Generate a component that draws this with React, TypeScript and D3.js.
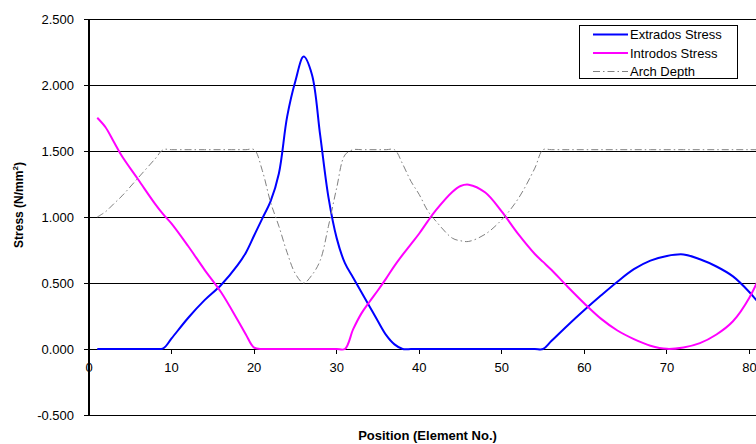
import React from 'react';
import * as d3 from 'd3';

// element positions along the arch
const positions = [1, 2, 3, 4, 6, 8, 9, 10, 12, 14, 16, 18, 19, 20, 21, 22, 23, 24, 25, 26, 27, 28, 29, 30, 31, 32, 33, 34, 35, 36, 37, 38, 39, 40, 41, 42, 44, 45, 46, 48, 50, 52, 54, 55, 56, 58, 60, 62, 64, 66, 68, 70, 72, 74, 76, 78, 80, 82];

const extrados = [0, 0, 0, 0, 0, 0, 0.005, 0.08, 0.235, 0.37, 0.485, 0.635, 0.73, 0.86, 0.99, 1.12, 1.33, 1.76, 2.03, 2.215, 2.08, 1.62, 1.15, 0.84, 0.65, 0.54, 0.43, 0.32, 0.21, 0.105, 0.035, 0, 0, 0, 0, 0, 0, 0, 0, 0, 0, 0, 0, 0, 0.06, 0.18, 0.295, 0.405, 0.51, 0.605, 0.67, 0.705, 0.716, 0.68, 0.625, 0.55, 0.43, 0.28];

const introdos = [1.752, 1.68, 1.57, 1.46, 1.28, 1.1, 1.02, 0.95, 0.78, 0.6, 0.43, 0.22, 0.11, 0.01, 0, 0, 0, 0, 0, 0, 0, 0, 0, 0, 0, 0.15, 0.27, 0.36, 0.445, 0.535, 0.63, 0.715, 0.795, 0.875, 0.965, 1.05, 1.19, 1.235, 1.245, 1.185, 1.04, 0.87, 0.72, 0.66, 0.6, 0.47, 0.345, 0.23, 0.14, 0.075, 0.025, 0.001, 0.012, 0.045, 0.11, 0.21, 0.39, 0.66];

const archDepth = [1.0, 1.04, 1.1, 1.16, 1.3, 1.44, 1.51, 1.51, 1.51, 1.51, 1.51, 1.51, 1.51, 1.51, 1.35, 1.11, 0.93, 0.73, 0.57, 0.5, 0.56, 0.67, 0.93, 1.22, 1.47, 1.51, 1.51, 1.51, 1.51, 1.51, 1.51, 1.4, 1.27, 1.17, 1.05, 0.97, 0.84, 0.82, 0.815, 0.87, 0.98, 1.14, 1.37, 1.51, 1.51, 1.51, 1.51, 1.51, 1.51, 1.51, 1.51, 1.51, 1.51, 1.51, 1.51, 1.51, 1.51, 1.51];

const xTicks = [0, 10, 20, 30, 40, 50, 60, 70, 80];
const yTicks = [-0.5, 0, 0.5, 1.0, 1.5, 2.0, 2.5];

const seriesNames = ['Extrados Stress', 'Introdos Stress', 'Arch Depth'];
const seriesColors = ['#0000ff', '#ff00ff', '#808080'];

const W = 756;
const H = 444;
const margin = { top: 19, right: -10, bottom: 29, left: 89 };
const font = 'Arial, "Liberation Sans", sans-serif';

const fmt = d3.formatLocale({
  decimal: '.', thousands: ',', grouping: [3], currency: ['', ''], minus: '-'
}).format('.3f');

const App = () => {
  const x = d3.scaleLinear()
    .domain([0, 82])
    .range([margin.left, W - margin.right]);
  const y = d3.scaleLinear()
    .domain([-0.5, 2.5])
    .range([H - margin.bottom, margin.top]);

  // smoothed lines, like the spreadsheet's "smoothed line" option
  const line = d3.line<number>()
    .x((_, i) => x(positions[i]))
    .y((d) => y(d))
    .curve(d3.curveCatmullRom.alpha(0.5));

  const series = [extrados, introdos, archDepth];
  const plotRight = W - margin.right;

  return (
    <svg width={W} height={H} style={{ position: 'absolute', left: 0, top: 0, background: '#fff' }}>
      <defs>
        <clipPath id="plot-clip">
          <rect x={margin.left} y={margin.top - 3} width={plotRight - margin.left} height={H - margin.bottom - margin.top + 6} />
        </clipPath>
      </defs>

      {/* gridlines and y ticks */}
      {yTicks.map((t) => (
        <g key={`y-${t}`}>
          <line x1={margin.left} x2={plotRight} y1={y(t)} y2={y(t)} stroke="#000" strokeWidth={1} shapeRendering="crispEdges" />
          <line x1={margin.left - 5} x2={margin.left} y1={y(t)} y2={y(t)} stroke="#000" strokeWidth={1} shapeRendering="crispEdges" />
          <text x={74} y={y(t) + 4.5} textAnchor="end" fontFamily={font} fontSize={13} fill="#000">{fmt(t)}</text>
        </g>
      ))}

      {/* y axis line */}
      <line x1={margin.left} x2={margin.left} y1={y(2.5)} y2={y(-0.5)} stroke="#000" strokeWidth={1.5} shapeRendering="crispEdges" />

      {/* x ticks on the zero line */}
      {xTicks.map((t) => (
        <g key={`x-${t}`}>
          <line x1={x(t)} x2={x(t)} y1={y(0)} y2={y(0) + 5} stroke="#000" strokeWidth={1} shapeRendering="crispEdges" />
          <text x={x(t)} y={y(0) + 23} textAnchor="middle" fontFamily={font} fontSize={13} fill="#000">{t}</text>
        </g>
      ))}

      {/* data lines */}
      <g clipPath="url(#plot-clip)">
        {series.map((s, i) => (
          <path
            key={seriesNames[i]}
            d={line(s) || ''}
            fill="none"
            stroke={seriesColors[i]}
            strokeWidth={i === 2 ? 1 : 2}
            strokeDasharray={i === 2 ? '7,3,1.5,3' : undefined}
            strokeLinejoin="round"
          />
        ))}
      </g>

      {/* axis titles */}
      <text x={(margin.left + plotRight) / 2} y={440} textAnchor="middle" fontFamily={font} fontSize={13} fontWeight="bold" fill="#000">
        Position (Element No.)
      </text>
      <text transform="translate(23,205) rotate(-90)" textAnchor="middle" fontFamily={font} fontSize={12} fontWeight="bold" fill="#000">
        Stress (N/mm<tspan fontSize={8} dy={-5}>2</tspan><tspan dy={5}>)</tspan>
      </text>

      {/* legend */}
      <g>
        <rect x={579.5} y={25.5} width={158} height={53} fill="#fff" stroke="#000" strokeWidth={1} />
        {seriesNames.map((name, i) => {
          const cy = 34.5 + i * 18.5;
          return (
            <g key={`leg-${name}`}>
              <line
                x1={593} x2={628} y1={cy} y2={cy}
                stroke={seriesColors[i]}
                strokeWidth={i === 2 ? 1 : 2}
                strokeDasharray={i === 2 ? '7,3,1.5,3' : undefined}
              />
              <text x={630} y={cy + 4.5} fontFamily={font} fontSize={13} fill="#000">{name}</text>
            </g>
          );
        })}
      </g>
    </svg>
  );
};

export default App;
